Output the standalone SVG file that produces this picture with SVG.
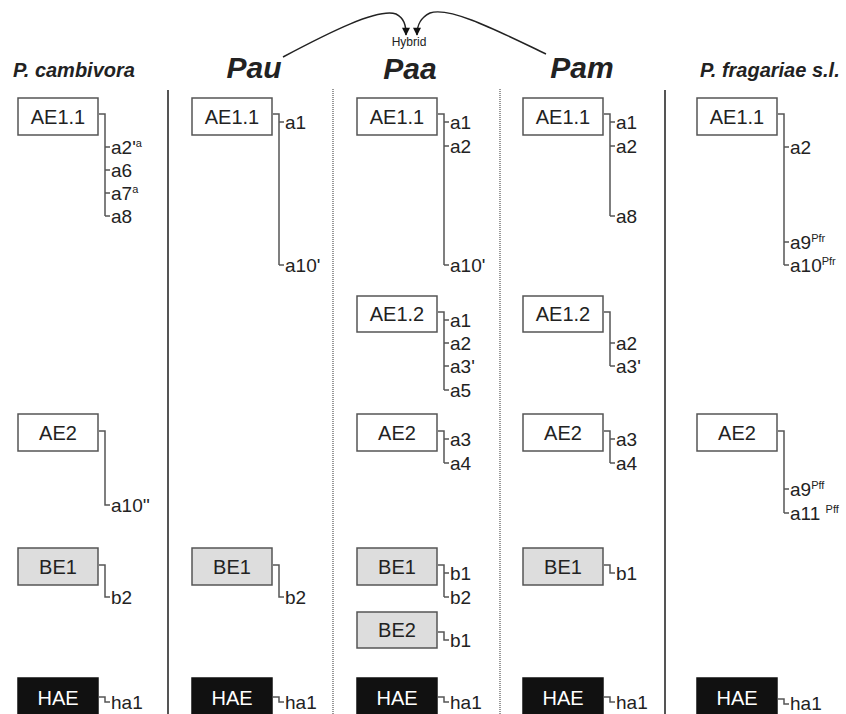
<svg xmlns="http://www.w3.org/2000/svg" width="846" height="714" viewBox="0 0 846 714">
<style>
text{font-family:"Liberation Sans",Arial,sans-serif;fill:#222}
.title{font-weight:bold;font-style:italic;font-size:20px}
.big{font-weight:bold;font-style:italic;font-size:30px;text-anchor:middle}
.bt{font-size:20px;text-anchor:middle}
.lb{font-size:19px}
.sup{font-size:11px}
.box{stroke:#555;stroke-width:1.5}
.ae{fill:#fff}
.be{fill:#ddd}
.hae{fill:#111;stroke:#111}
.ht{fill:#fff}
.br{fill:none;stroke:#555;stroke-width:1.5}
.sol{stroke:#555;stroke-width:2}
.dot{stroke:#777;stroke-width:1.5;stroke-dasharray:1 1}
.arc{fill:none;stroke:#222;stroke-width:1.5}
</style>
<defs>
<marker id="ah" viewBox="0 0 10 10" refX="9" refY="5" markerWidth="9" markerHeight="8" orient="auto" markerUnits="userSpaceOnUse">
<path d="M0,0 L10,5 L0,10 z" fill="#111"/>
</marker>
</defs>
<rect width="846" height="714" fill="#fff"/>
<g id="dividers">
<line class="sol" x1="168" y1="90" x2="168" y2="714"/>
<line class="dot" x1="333" y1="89" x2="333" y2="714"/>
<line class="dot" x1="500" y1="89" x2="500" y2="714"/>
<line class="sol" x1="665" y1="90" x2="665" y2="714"/>
</g>
<g id="titles">
<text class="title" x="13" y="77">P. cambivora</text>
<text class="big" x="254" y="78">Pau</text>
<text class="big" x="410" y="79">Paa</text>
<text class="big" x="582" y="78">Pam</text>
<text class="title" x="700" y="77">P. fragariae s.l.</text>
<text x="409" y="46" font-size="12" text-anchor="middle">Hybrid</text>
</g>
<g id="connectors">
<path class="arc" d="M283,57 C330,32 378,8 396,14 C404,18 406,25 406,35" marker-end="url(#ah)"/>
<path class="arc" d="M546,54 C500,32 450,6 430,13 C420,18 417,25 417,35" marker-end="url(#ah)"/>
<!-- P. cambivora -->
<path class="br" d="M99,114 H105 V216 M105,147 h5 M105,170 h5 M105,193 h5 M105,216 h5"/>
<path class="br" d="M99,431 H105 V505 h5"/>
<path class="br" d="M99,565 H105 V597 h5"/>
<path class="br" d="M99,697 H105 V702 h5"/>
<!-- Pau -->
<path class="br" d="M273,114 H279 V265 M279,122 h5 M279,265 h5"/>
<path class="br" d="M273,565 H279 V597 h5"/>
<path class="br" d="M273,697 H279 V702 h5"/>
<!-- Paa -->
<path class="br" d="M438,114 H444 V265 M444,122 h5 M444,146 h5 M444,265 h5"/>
<path class="br" d="M438,312 H444 V390 M444,320 h5 M444,343 h5 M444,366 h5 M444,390 h5"/>
<path class="br" d="M438,431 H444 V463 M444,439 h5 M444,463 h5"/>
<path class="br" d="M438,565 H444 V597 M444,573 h5 M444,597 h5"/>
<path class="br" d="M438,632 H444 V640 h5"/>
<path class="br" d="M438,697 H444 V702 h5"/>
<!-- Pam -->
<path class="br" d="M604,114 H610 V216 M610,122 h5 M610,146 h5 M610,216 h5"/>
<path class="br" d="M604,312 H610 V366 M610,343 h5 M610,366 h5"/>
<path class="br" d="M604,431 H610 V463 M610,439 h5 M610,463 h5"/>
<path class="br" d="M604,565 H610 V573 h5"/>
<path class="br" d="M604,697 H610 V702 h5"/>
<!-- P. fragariae -->
<path class="br" d="M778,114 H784 V265 M784,147 h5 M784,242 h5 M784,265 h5"/>
<path class="br" d="M778,431 H784 V513 M784,489 h5 M784,513 h5"/>
<path class="br" d="M778,699 H784 V704 h5"/>
</g>
<g id="pcam-ae11"><rect class="box ae" x="18" y="98" width="80" height="37"/><text class="bt" x="58" y="124">AE1.1</text>
<text class="lb" x="111" y="154">a2'<tspan class="sup" dy="-7">a</tspan></text>
<text class="lb" x="111" y="177">a6</text>
<text class="lb" x="111" y="200">a7<tspan class="sup" dy="-7">a</tspan></text>
<text class="lb" x="111" y="223">a8</text></g>
<g id="pcam-ae2"><rect class="box ae" x="18" y="414" width="80" height="37"/><text class="bt" x="58" y="440">AE2</text>
<text class="lb" x="111" y="512">a10''</text></g>
<g id="pcam-be1"><rect class="box be" x="18" y="548" width="80" height="37"/><text class="bt" x="58" y="574">BE1</text>
<text class="lb" x="111" y="604">b2</text></g>
<g id="pcam-hae"><rect class="box hae" x="18" y="678" width="80" height="37"/><text class="bt ht" x="58" y="705">HAE</text>
<text class="lb" x="111" y="709">ha1</text></g>

<g id="pau-ae11"><rect class="box ae" x="192" y="98" width="80" height="37"/><text class="bt" x="232" y="124">AE1.1</text>
<text class="lb" x="285" y="129">a1</text>
<text class="lb" x="285" y="272">a10'</text></g>
<g id="pau-be1"><rect class="box be" x="192" y="548" width="80" height="37"/><text class="bt" x="232" y="574">BE1</text>
<text class="lb" x="285" y="604">b2</text></g>
<g id="pau-hae"><rect class="box hae" x="192" y="678" width="80" height="37"/><text class="bt ht" x="232" y="705">HAE</text>
<text class="lb" x="285" y="709">ha1</text></g>

<g id="paa-ae11"><rect class="box ae" x="357" y="98" width="80" height="37"/><text class="bt" x="397" y="124">AE1.1</text>
<text class="lb" x="450" y="129">a1</text>
<text class="lb" x="450" y="153">a2</text>
<text class="lb" x="450" y="272">a10'</text></g>
<g id="paa-ae12"><rect class="box ae" x="357" y="296" width="80" height="36"/><text class="bt" x="397" y="321">AE1.2</text>
<text class="lb" x="450" y="327">a1</text>
<text class="lb" x="450" y="350">a2</text>
<text class="lb" x="450" y="373">a3'</text>
<text class="lb" x="450" y="397">a5</text></g>
<g id="paa-ae2"><rect class="box ae" x="357" y="414" width="80" height="37"/><text class="bt" x="397" y="440">AE2</text>
<text class="lb" x="450" y="446">a3</text>
<text class="lb" x="450" y="470">a4</text></g>
<g id="paa-be1"><rect class="box be" x="357" y="548" width="80" height="37"/><text class="bt" x="397" y="574">BE1</text>
<text class="lb" x="450" y="580">b1</text>
<text class="lb" x="450" y="604">b2</text></g>
<g id="paa-be2"><rect class="box be" x="357" y="612" width="80" height="36"/><text class="bt" x="397" y="637">BE2</text>
<text class="lb" x="450" y="647">b1</text></g>
<g id="paa-hae"><rect class="box hae" x="357" y="678" width="80" height="37"/><text class="bt ht" x="397" y="705">HAE</text>
<text class="lb" x="450" y="709">ha1</text></g>

<g id="pam-ae11"><rect class="box ae" x="523" y="98" width="80" height="37"/><text class="bt" x="563" y="124">AE1.1</text>
<text class="lb" x="616" y="129">a1</text>
<text class="lb" x="616" y="153">a2</text>
<text class="lb" x="616" y="223">a8</text></g>
<g id="pam-ae12"><rect class="box ae" x="523" y="296" width="80" height="36"/><text class="bt" x="563" y="321">AE1.2</text>
<text class="lb" x="616" y="350">a2</text>
<text class="lb" x="616" y="373">a3'</text></g>
<g id="pam-ae2"><rect class="box ae" x="523" y="414" width="80" height="37"/><text class="bt" x="563" y="440">AE2</text>
<text class="lb" x="616" y="446">a3</text>
<text class="lb" x="616" y="470">a4</text></g>
<g id="pam-be1"><rect class="box be" x="523" y="548" width="80" height="37"/><text class="bt" x="563" y="574">BE1</text>
<text class="lb" x="616" y="580">b1</text></g>
<g id="pam-hae"><rect class="box hae" x="523" y="678" width="80" height="37"/><text class="bt ht" x="563" y="705">HAE</text>
<text class="lb" x="616" y="709">ha1</text></g>

<g id="pfr-ae11"><rect class="box ae" x="697" y="98" width="80" height="37"/><text class="bt" x="737" y="124">AE1.1</text>
<text class="lb" x="790" y="154">a2</text>
<text class="lb" x="790" y="249">a9<tspan class="sup" dy="-7">Pfr</tspan></text>
<text class="lb" x="790" y="272">a10<tspan class="sup" dy="-7">Pfr</tspan></text></g>
<g id="pfr-ae2"><rect class="box ae" x="697" y="414" width="80" height="37"/><text class="bt" x="737" y="440">AE2</text>
<text class="lb" x="790" y="496">a9<tspan class="sup" dy="-7">Pff</tspan></text>
<text class="lb" x="790" y="520">a11 <tspan class="sup" dy="-7">Pff</tspan></text></g>
<g id="pfr-hae"><rect class="box hae" x="697" y="678" width="80" height="37"/><text class="bt ht" x="737" y="705">HAE</text>
<text class="lb" x="790" y="710">ha1</text></g>
</svg>
